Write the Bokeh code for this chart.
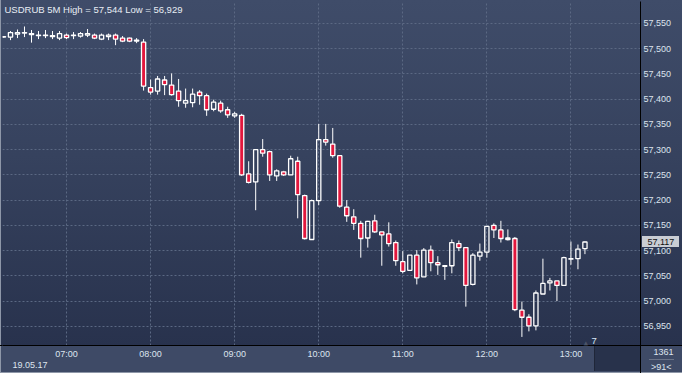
import numpy as np
from bokeh.plotting import figure
from bokeh.models import (Range1d, FixedTicker, NumeralTickFormatter, Label,
                          ColumnDataSource, LinearAxis)
from bokeh.embed import file_html
from bokeh.resources import INLINE

# ---------------- data ----------------
title_text = "USDRUB 5M High = 57,544 Low = 56,929"
date_text = "19.05.17"
first_bar = "06:15"
bar_minutes = 5
opens = [57524, 57523, 57529, 57531, 57528, 57526, 57526, 57524, 57521, 57527,
         57526, 57525, 57527, 57527, 57519, 57524, 57527, 57521, 57521, 57515,
         57513, 57423, 57416, 57438, 57428, 57416, 57392, 57393, 57414, 57407,
         57380, 57392, 57379, 57367, 57368, 57252, 57236, 57300, 57296, 57248,
         57256, 57250, 57277, 57209, 57122, 57199, 57320, 57311, 57288, 57186,
         57167, 57154, 57125, 57159, 57137, 57133, 57116, 57078, 57061, 57091,
         57048, 57101, 57076, 57069, 57070, 57114, 57106, 57033, 57089, 57097,
         57150, 57141, 57125, 57124, 56982, 56968, 56951, 57014, 57036, 57040,
         57031, 57083, 57084, 57104]
highs = [57525, 57535, 57538, 57544, 57537, 57535, 57537, 57535, 57535, 57530,
         57533, 57533, 57539, 57530, 57530, 57530, 57530, 57525, 57522, 57521,
         57519, 57439, 57446, 57446, 57451, 57440, 57421, 57421, 57418, 57411,
         57399, 57397, 57385, 57375, 57371, 57277, 57300, 57321, 57298, 57261,
         57258, 57288, 57286, 57211, 57201, 57351, 57351, 57343, 57288, 57200,
         57182, 57159, 57159, 57171, 57137, 57156, 57120, 57099, 57091, 57101,
         57105, 57110, 57089, 57071, 57122, 57120, 57106, 57095, 57114, 57148,
         57154, 57159, 57142, 57127, 56999, 56974, 57021, 57084, 57046, 57040,
         57088, 57118, 57112, 57118]
lows = [57522, 57517, 57521, 57523, 57512, 57519, 57521, 57519, 57517, 57519,
        57519, 57522, 57523, 57519, 57517, 57517, 57507, 57513, 57513, 57511,
        57417, 57409, 57409, 57408, 57407, 57385, 57383, 57384, 57389, 57367,
        57376, 57373, 57363, 57363, 57248, 57233, 57180, 57286, 57238, 57238,
        57248, 57250, 57164, 57122, 57122, 57190, 57308, 57284, 57185, 57157,
        57141, 57086, 57106, 57135, 57070, 57108, 57070, 57055, 57061, 57033,
        57048, 57059, 57052, 57042, 57055, 57099, 56989, 57031, 57080, 57086,
        57125, 57116, 57120, 56980, 56929, 56940, 56942, 57014, 57021, 57000,
        57031, 57072, 57063, 57093]
closes = [57523, 57532, 57532, 57532, 57530, 57527, 57527, 57526, 57530, 57522,
          57527, 57530, 57530, 57521, 57527, 57527, 57519, 57515, 57515, 57517,
          57426, 57414, 57440, 57429, 57409, 57397, 57397, 57410, 57407, 57379,
          57394, 57377, 57369, 57371, 57250, 57235, 57300, 57293, 57250, 57258,
          57250, 57282, 57211, 57124, 57199, 57320, 57315, 57288, 57188, 57169,
          57154, 57124, 57158, 57137, 57131, 57114, 57080, 57059, 57091, 57046,
          57101, 57076, 57072, 57070, 57116, 57106, 57031, 57091, 57097, 57148,
          57141, 57124, 57122, 56983, 56968, 56951, 57016, 57035, 57040, 57031,
          57086, 57084, 57103, 57117]
hour_labels = ["07:00", "08:00", "09:00", "10:00", "11:00", "12:00", "13:00"]
price_ticks = [56950, 57000, 57050, 57100, 57150, 57200, 57250, 57300, 57350,
               57400, 57450, 57500, 57550]
last_price = 57117
corner_top = "1361"
corner_bottom = ">91<"
marker_text = "7"

# ---------------- layout constants ----------------
W, H = 682, 373
B_LEFT, B_RIGHT, B_TOP, B_BOTTOM = 2, 42, 1, 28
FW, FH = W - B_LEFT - B_RIGHT, H - B_TOP - B_BOTTOM
X0, X1 = 374.3, 829.65          # visible time span (minutes after midnight)
Y0, Y1 = 56912, 57593.5         # visible price span
PXPM = FW / (X1 - X0)

FONT = "Liberation Sans"
TXT = "#dde4ee"
RED = "#e2173d"
NB = "\u00a0"

# ---------------- derived ----------------
h0, m0 = map(int, first_bar.split(":"))
t0 = h0 * 60 + m0
t = np.array([t0 + bar_minutes * i for i in range(len(opens))], dtype=float)
o = np.array(opens, float); c = np.array(closes, float)
hi = np.array(highs, float); lo = np.array(lows, float)
top = np.maximum(o, c); bot = np.minimum(o, c)
up = c >= o
hour_pos = [int(s[:2]) * 60 + int(s[3:]) for s in hour_labels]

# background (plot gradient, bottom band, frame lines, small boxes) as CSS
FB = B_TOP + FH        # frame bottom (px)
FR = B_LEFT + FW       # frame right (px)
tag_y = B_TOP + (Y1 - last_price) / (Y1 - Y0) * FH
def layer(col, x, y, w, h):
    return f"linear-gradient({col},{col}) {x}px {y}px / {w}px {h}px no-repeat"
bg = ", ".join([
    layer("#000000", FR, FB, 1, H - FB),
    layer("#000000", FR, FB, W - FR, 1),
    layer("#000000", 0, FB, B_LEFT, 1),
    layer("#8e97a8", 0, 0, 1, H),
    layer("#8e97a8", 0, H - 1, W, 1),
    layer("#c9cdd4", FR + 2, round(tag_y - 5.5), 37, 11),
    layer("#6b7489", 649, 359, 25, 1),
    layer("#1f2638", 594, FB + 1, 1, 25),
    layer("#28324b", 595, FB + 1, 45, 25),
    f"linear-gradient(to bottom, #3f4c69 0%, #36425e 45%, #28324d 100%) 0 0 / 100% {FB + 1}px no-repeat",
    "#3e4a66",
])

p = figure(width=W, height=H, output_backend="svg", toolbar_location=None,
           x_axis_location=None, y_axis_location=None,
           min_border_left=B_LEFT, min_border_right=B_RIGHT, min_border_top=B_TOP,
           min_border_bottom=B_BOTTOM)
p.x_range = Range1d(X0, X1)
p.y_range = Range1d(Y0, Y1)
p.background_fill_color = None
p.border_fill_color = None
p.outline_line_color = None
p.styles = {"background": bg}

def style_axis(ax, standoff, color=TXT):
    ax.major_tick_line_color = None
    ax.minor_tick_line_color = None
    ax.major_tick_out = 0
    ax.major_tick_in = 0
    ax.minor_tick_out = 0
    ax.minor_tick_in = 0
    ax.major_label_standoff = standoff
    ax.major_label_text_font = FONT
    ax.major_label_text_font_size = "9px"
    ax.major_label_text_color = color

# bottom time axis
xa = LinearAxis(ticker=FixedTicker(ticks=hour_pos),
                major_label_overrides={hp: lab for hp, lab in zip(hour_pos, hour_labels)})
style_axis(xa, 3)
xa.axis_line_color = "black"
p.add_layout(xa, "below")

# second row under the time axis: the date
date_tick = int(round(X0 + 28.3 / PXPM))
xd = LinearAxis(ticker=FixedTicker(ticks=[date_tick]),
                major_label_overrides={date_tick: date_text})
style_axis(xd, 0)
xd.axis_line_color = None
p.add_layout(xd, "below")

# right price axis (+ the corner counters hanging under its lowest tick)
corner_tick = int(Y0) + 1
ya = LinearAxis(ticker=FixedTicker(ticks=price_ticks + [corner_tick]),
                formatter=NumeralTickFormatter(format="0,0"),
                major_label_overrides={corner_tick: f"{NB}\n{NB}\n{NB*4}{corner_top}\n{NB*3}{corner_bottom}"})
style_axis(ya, 3)
ya.major_label_text_line_height = 1.45
ya.axis_line_color = "black"
p.add_layout(ya, "right")

# last price tag
yt = LinearAxis(ticker=FixedTicker(ticks=[last_price]),
                formatter=NumeralTickFormatter(format="0,0"))
style_axis(yt, -29, "#111111")
yt.axis_line_color = None
p.add_layout(yt, "right")

p.xgrid.ticker = FixedTicker(ticks=hour_pos)
p.ygrid.ticker = FixedTicker(ticks=price_ticks)
for g in (p.xgrid, p.ygrid):
    g.grid_line_color = "#5b6883"
    g.grid_line_dash = "2 2"
    g.grid_line_width = 1

# candles
src_w = ColumnDataSource(dict(x=t, top=top, bot=bot, hi=hi, lo=lo))
p.segment(x0="x", y0="top", x1="x", y1="hi", source=src_w, line_color="white", line_width=1)
p.segment(x0="x", y0="bot", x1="x", y1="lo", source=src_w, line_color="white", line_width=1)

src_up = ColumnDataSource(dict(x=t[up], top=top[up], bot=bot[up]))
src_dn = ColumnDataSource(dict(x=t[~up], top=top[~up], bot=bot[~up]))
bw = bar_minutes * 0.6
p.vbar(x="x", width=bw, top="top", bottom="bot", source=src_up,
       fill_color=None, line_color="white", line_width=1.3)
p.vbar(x="x", width=bw, top="top", bottom="bot", source=src_dn,
       fill_color=RED, line_color="white", line_width=1.3)

# texts inside the chart area
p.add_layout(Label(x=2, y=FH - 7.5, x_units="screen", y_units="screen", text=title_text,
                   text_font=FONT, text_font_size="9.5px", text_color="#e8edf4",
                   text_baseline="middle"))
p.add_layout(Label(x=589, y=4.5, x_units="screen", y_units="screen", text=marker_text,
                   text_font=FONT, text_font_size="9.5px", text_color="#d8e8f7",
                   text_baseline="middle"))
p.add_layout(Label(x=581, y=3, x_units="screen", y_units="screen", text="\u25b2",
                   text_font="DejaVu Sans", text_font_size="6px", text_color="#4b5468",
                   text_baseline="middle"))

open("out.html", "w").write(file_html(p, INLINE))
